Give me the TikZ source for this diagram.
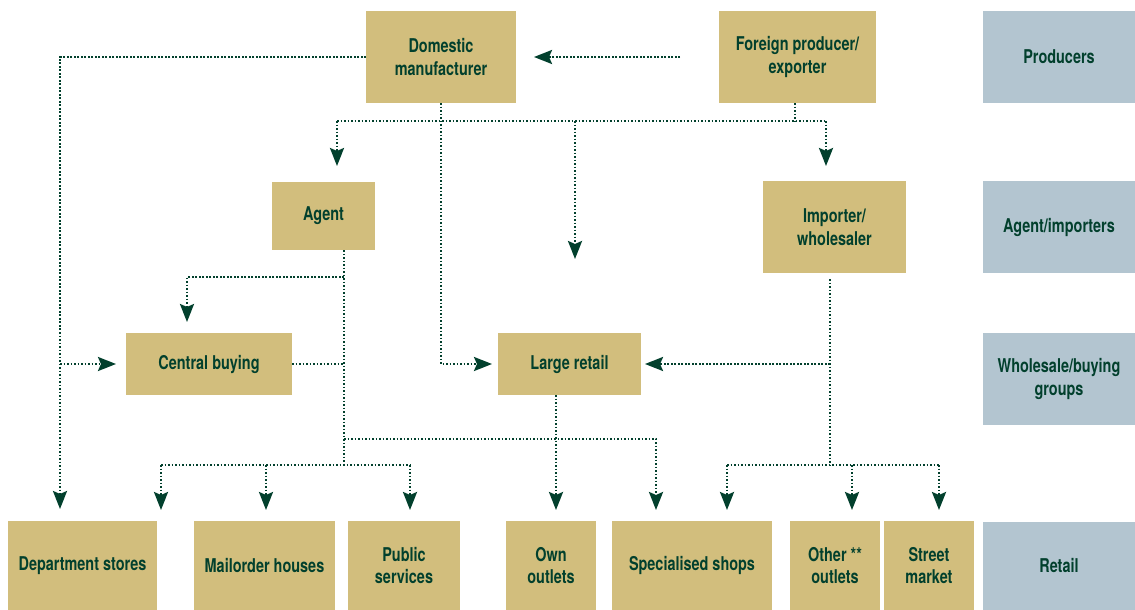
\documentclass[tikz,border=0pt]{standalone}
\usepackage{fontspec}
\setmainfont{TeX Gyre Heros}[FakeStretch=0.76]
\usetikzlibrary{arrows.meta}
\definecolor{gold}{RGB}{210,190,125}
\definecolor{steel}{RGB}{179,197,208}
\definecolor{ink}{RGB}{2,64,45}
\begin{document}
\begin{tikzpicture}[x=1pt,y=-1pt,
  box/.style={fill=gold, inner sep=0pt, outer sep=0pt, align=center, text=ink,
    font=\fontsize{19}{22.5}\selectfont\bfseries},
  lvl/.style={box, fill=steel},
  flow/.style={draw=ink, line width=2.6pt, dash pattern=on 1.9pt off 1.6pt},
  arr/.style={flow, -{Stealth[length=18pt,width=14pt,inset=3pt]}}]
\useasboundingbox (0,0) rectangle (1135,610);
% row 1
\node[box, minimum width=150pt, minimum height=92pt] (dom) at (441,57) {Domestic\\manufacturer};
\node[box, minimum width=157pt, minimum height=92pt] (for) at (797.5,57) {Foreign producer/\\exporter};
\node[lvl, minimum width=152pt, minimum height=92pt] (prod) at (1059,57) {Producers};
% row 2
\node[box, minimum width=103pt, minimum height=68pt] (agent) at (323.5,216) {Agent};
\node[box, minimum width=143pt, minimum height=92pt] (imp) at (834.5,227) {Importer/\\wholesaler};
\node[lvl, minimum width=152pt, minimum height=92pt] (agimp) at (1059,227) {Agent/importers};
% row 3
\node[box, minimum width=166pt, minimum height=62pt] (cb) at (209,364) {Central buying};
\node[box, minimum width=143pt, minimum height=62pt] (lr) at (569.5,364) {Large retail};
\node[lvl, minimum width=152pt, minimum height=92pt] (wbg) at (1059,379) {Wholesale/buying\\groups};
% row 4
\node[box, minimum width=149pt, minimum height=89pt] (dept) at (82.5,565.5) {Department stores};
\node[box, minimum width=141pt, minimum height=89pt] (mail) at (264.5,565.5) {Mailorder houses};
\node[box, minimum width=112pt, minimum height=89pt] (pub) at (404,565.5) {Public\\services};
\node[box, minimum width=90pt, minimum height=89pt] (own) at (551,565.5) {Own\\outlets};
\node[box, minimum width=160pt, minimum height=89pt] (spec) at (692,565.5) {Specialised shops};
\node[box, minimum width=90pt, minimum height=89pt] (oth) at (835,565.5) {Other **\\outlets};
\node[box, minimum width=90pt, minimum height=89pt] (street) at (929,565.5) {Street\\market};
\node[lvl, minimum width=152pt, minimum height=88pt] (retail) at (1059,566) {Retail};
% junctions
\coordinate (L) at (60,57);
\coordinate (tA) at (337,121);
\coordinate (tI) at (826,121);
\coordinate (fB) at (795,121);
\coordinate (m1) at (575,121);
\coordinate (m2) at (575,259);
\coordinate (A) at (344,250);
\coordinate (A1) at (344,277);
\coordinate (A2) at (344,439);
\coordinate (A3) at (344,465);
\coordinate (c1) at (187,277);
\coordinate (s1) at (656,439);
\coordinate (b1) at (161,465);
\coordinate (b2) at (266,465);
\coordinate (b3) at (410,465);
\coordinate (o1) at (556,395);
\coordinate (I) at (830,279);
\coordinate (I3) at (830,465);
\coordinate (e1) at (727,465);
\coordinate (e2) at (852,465);
\coordinate (e3) at (939,465);
% connectors
\draw[arr, shorten <=39pt, shorten >=18pt] (for.west) -- (dom.east);
\draw[arr, shorten >=12pt] (dom.west) -| (L |- dept.north);
\draw[arr, shorten >=10pt] (L |- cb.west) -- (cb.west);
\draw[arr, shorten >=6pt] (dom.south) |- (lr.west);
\draw[flow] (tA) -- (tI);
\draw[flow] (fB |- for.south) -- (fB);
\draw[arr, shorten >=16pt] (tA) -- (tA |- agent.north);
\draw[arr, shorten >=15pt] (tI) -- (tI |- imp.north);
\draw[arr] (m1) -- (m2);
\draw[flow] (A) -- (A3);
\draw[arr, shorten >=11pt] (A1) -| (c1 |- cb.north);
\draw[flow] (cb.east) -- (A |- cb.east);
\draw[arr, shorten >=11pt] (A2) -| (s1 |- spec.north);
\draw[flow] (b1) -- (b3);
\draw[arr, shorten >=11pt] (b1) -- (b1 |- dept.north);
\draw[arr, shorten >=11pt] (b2) -- (b2 |- mail.north);
\draw[arr, shorten >=11pt] (b3) -- (b3 |- pub.north);
\draw[arr, shorten >=11pt] (o1) -- (o1 |- own.north);
\draw[flow] (I) -- (I3);
\draw[arr, shorten >=4pt] (I |- lr.east) -- (lr.east);
\draw[flow] (e1) -- (e3);
\draw[arr, shorten >=11pt] (e1) -- (e1 |- spec.north);
\draw[arr, shorten >=11pt] (e2) -- (e2 |- oth.north);
\draw[arr, shorten >=11pt] (e3) -- (e3 |- street.north);
\end{tikzpicture}
\end{document}
